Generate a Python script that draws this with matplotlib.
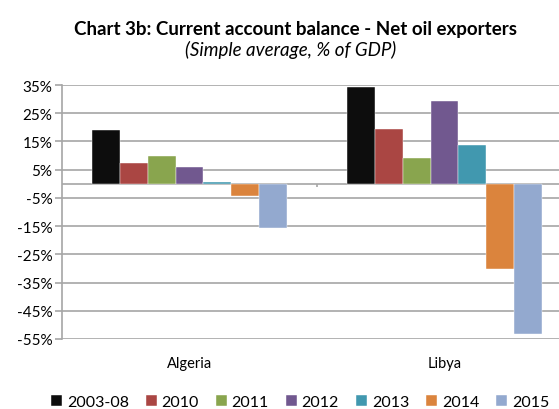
import numpy as np
import matplotlib
matplotlib.use("Agg")
import matplotlib.pyplot as plt

plt.rcParams["font.family"] = ["Lato", "DejaVu Sans"]

countries = ["Algeria", "Libya"]
years = ["2003-08", "2010", "2011", "2012", "2013", "2014", "2015"]
algeria = [18.9, 7.4, 9.9, 5.9, 0.5, -4.4, -15.6]
libya = [34.3, 19.5, 9.1, 29.2, 13.6, -30.1, -53.2]
colors = ["#0D0D0D", "#AA4643", "#89A54E", "#71588F", "#4198AF", "#DB843D", "#93A9CF"]
yticks = [35, 25, 15, 5, -5, -15, -25, -35, -45, -55]

values = np.array([algeria, libya])  # (country, year)

fig = plt.figure(figsize=(5.59, 4.10), dpi=100)
ax = fig.add_axes([62 / 559, 70 / 410, 510 / 559, 254 / 410])

x = np.arange(len(countries))
n = len(years)
bw = 0.1087
for i, (yr, c) in enumerate(zip(years, colors)):
    offs = (i - (n - 1) / 2) * bw
    ax.bar(x + offs, values[:, i], width=bw, color=c, label=yr,
           edgecolor="white", linewidth=0.3, zorder=3)

ax.set_xlim(-0.5, 1.5)
ax.set_ylim(-55, 35)
ax.set_yticks(yticks)
ax.set_yticklabels([f"{v}%" for v in yticks], fontsize=11)
ax.yaxis.grid(True, color="#A6A6A6", linewidth=1.2, zorder=0)
ax.set_axisbelow(True)

for s in ["top", "right", "bottom"]:
    ax.spines[s].set_visible(False)
ax.spines["left"].set_color("#A6A6A6")
ax.spines["left"].set_linewidth(1.2)
ax.tick_params(axis="y", color="#A6A6A6", length=5, width=1.2, pad=2)

# category axis at zero
ax.axhline(0, color="#A6A6A6", linewidth=1.2, zorder=2)
ax.vlines(0.5, -1.3, 0, color="#A6A6A6", linewidth=1.2, zorder=2)

ax.set_xticks(x)
ax.set_xticklabels(countries, fontsize=10.5)
ax.tick_params(axis="x", length=0, pad=12)

fig.text(295 / 559, 1 - 30 / 410, "Chart 3b: Current account balance - Net oil exporters",
         ha="center", va="center", fontsize=13.5, fontweight="bold")
fig.text(291 / 559, 1 - 50 / 410, "(Simple average, % of GDP)",
         ha="center", va="center", fontsize=13.5, style="italic")

fig.legend(loc="center", bbox_to_anchor=(300 / 559, 1 - 403 / 410), ncol=7,
           frameon=False, fontsize=11.5, handlelength=0.7, handleheight=0.7,
           handletextpad=0.3, columnspacing=1.05, borderaxespad=0)

fig.savefig("out.png", dpi=100)
